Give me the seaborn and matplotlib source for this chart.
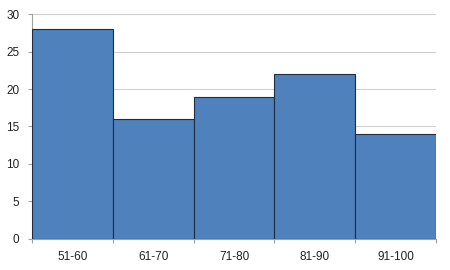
import matplotlib
matplotlib.use("Agg")
import matplotlib.pyplot as plt
import seaborn as sns
import numpy as np
import pandas as pd

categories = ["51-60", "61-70", "71-80", "81-90", "91-100"]
counts = [28, 16, 19, 22, 14]
y_ticks = [0, 5, 10, 15, 20, 25, 30]

sns.set_theme(style="white")
plt.rcParams['font.family'] = ['Liberation Sans', 'DejaVu Sans']

df = pd.DataFrame({"range": categories, "count": counts})

fig = plt.figure(figsize=(4.5, 2.7), dpi=100)
ax = fig.add_axes([0.071, 0.115, 0.898, 0.833])

sns.barplot(data=df, x="range", y="count", ax=ax, width=1.0,
            color="#4F81BD", saturation=1, edgecolor="#1F2D44", linewidth=0.8, zorder=3)

ax.set_xlim(-0.5, len(categories) - 0.5)
ax.set_ylim(0, 30)
ax.set_yticks(y_ticks)
ax.yaxis.grid(True, color="#D0D0D0", linewidth=0.8, zorder=0)
ax.set_axisbelow(True)
ax.set_xlabel("")
ax.set_ylabel("")

for s in ["top", "right"]:
    ax.spines[s].set_visible(False)
for s in ["left", "bottom"]:
    ax.spines[s].set_color("#A0A0A0")
    ax.spines[s].set_linewidth(0.8)

ax.set_xticks(np.arange(len(categories) + 1) - 0.5, minor=True)
ax.tick_params(axis="x", which="major", length=0, labelsize=8.5, pad=9, colors="#222222")
ax.tick_params(axis="x", which="minor", length=3, color="#A0A0A0", width=0.8, bottom=True)
ax.tick_params(axis="y", which="major", length=3, color="#A0A0A0", width=0.8, labelsize=8.5, pad=6, left=True, labelcolor="#222222")

fig.savefig("out.png", dpi=100)
